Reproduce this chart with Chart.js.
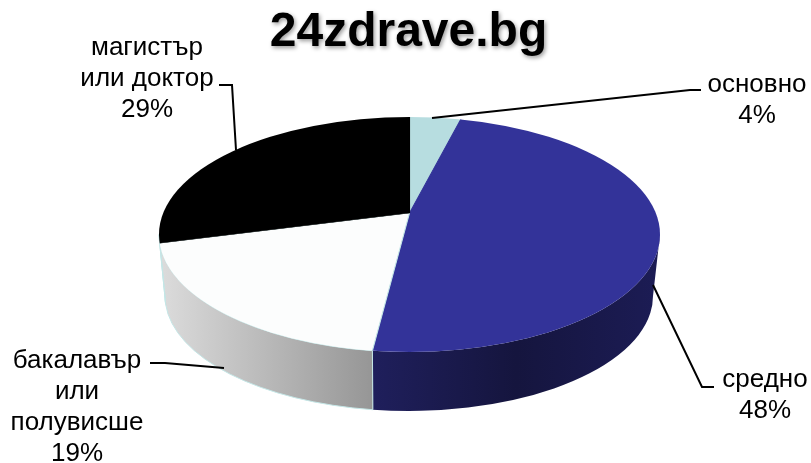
<!DOCTYPE html>
<html><head><meta charset="utf-8">
<style>html,body{margin:0;padding:0;background:#fff}#wrap{width:811px;height:463px}</style>
<script src="https://cdn.jsdelivr.net/npm/chart.js@4"></script>
</head><body><div id="wrap"><canvas id="c" width="811" height="463"></canvas></div>
<script>
const categories = ["основно", "средно", "бакалавър или полувисше", "магистър или доктор"];
const percentValues = [4, 48, 19, 29];
const sliceColors = ["#b7dde0", "#333399", "#fcfdfd", "#000000"];
const edgeColors = ["#b7dde0", "#333399", "#c4e6e6", "#000000"];
const sideStops = [
  ["#8fb0b3", "#8fb0b3"],
  ["#1f1f5c", "#15153e", "#1c1c55"],
  ["#dcdcdc", "#969696"],
  ["#dcdcdc", "#dcdcdc"]
];
const labelLines = [["основно"], ["средно"], ["бакалавър", "или", "полувисше"], ["магистър", "или доктор"]];
const labelAnchors = [
  {x: 757, y: 92},
  {x: 765, y: 387},
  {x: 77, y: 368},
  {x: 147, y: 55}
];
const leaders = [
  [[432,118],[690,90],[701,90]],
  [[653,285],[702,387],[714,387]],
  [[224,368],[165,363],[150,363]],
  [[236,150],[232,85],[219,85]]
];
const titleText = "24zdrave.bg";
const topFace = {cx: 409.5, cy: 234.5, rx: 250.5, ry: 117.5};
const bottomFace = {cx: 409, cy: 296, rx: 244, ry: 115};
const apex = {x: 409.5, y: 213};
const squash = topFace.ry / topFace.rx;

// Where a slice boundary leaving the off-centre apex meets the top ellipse (perspective look)
function rimAngle(theta) {
  const cy = (topFace.cy - apex.y) / squash;
  const dy = Math.sin(theta), dx = Math.cos(theta);
  const cd = cy * dy;
  const t = cd + Math.sqrt(cd * cd - cy * cy + topFace.rx * topFace.rx);
  let phi = Math.atan2(t * dy - cy, t * dx);
  if (phi < -Math.PI / 2 - 1e-6) phi += 2 * Math.PI;
  return phi;
}

const pie3d = {
  id: "pie3d",
  beforeDatasetsDraw(chart) {
    const ctx = chart.ctx, arcs = chart.getDatasetMeta(0).data;
    arcs.forEach((arc, i) => {
      const a = Math.max(rimAngle(arc.startAngle), 0);
      const b = i === arcs.length - 1 ? Math.PI : Math.min(rimAngle(arc.endAngle), Math.PI);
      if (b <= a) return;
      const x1 = topFace.cx + topFace.rx * Math.cos(b), x2 = topFace.cx + topFace.rx * Math.cos(a);
      const g = ctx.createLinearGradient(x1, 0, x2, 0);
      sideStops[i].forEach((c, k) => g.addColorStop(k / (sideStops[i].length - 1), c));
      ctx.save();
      ctx.beginPath();
      ctx.ellipse(topFace.cx, topFace.cy, topFace.rx, topFace.ry, 0, a, b);
      ctx.ellipse(bottomFace.cx, bottomFace.cy, bottomFace.rx, bottomFace.ry, 0, b, a, true);
      ctx.closePath();
      ctx.fillStyle = g;
      ctx.fill();
      if (i >= 2) { ctx.strokeStyle = "#c4e6e6"; ctx.lineWidth = 1; ctx.stroke(); }
      ctx.restore();
    });
    const arc = arcs[0];
    const k = 1.3 * topFace.rx / arc.outerRadius;
    ctx.save();
    ctx.beginPath();
    ctx.ellipse(topFace.cx, topFace.cy, topFace.rx, topFace.ry, 0, 0, 2 * Math.PI);
    ctx.clip();
    ctx.translate(apex.x, apex.y);
    ctx.scale(k, k * squash);
    ctx.translate(-arc.x, -arc.y);
  },
  afterDatasetsDraw(chart) {
    chart.ctx.restore();
  },
  afterDraw(chart) {
    const ctx = chart.ctx;
    ctx.save();
    ctx.strokeStyle = "#000";
    ctx.lineWidth = 2;
    leaders.forEach(pts => {
      ctx.beginPath();
      pts.forEach((p, k) => k ? ctx.lineTo(p[0], p[1]) : ctx.moveTo(p[0], p[1]));
      ctx.stroke();
    });
    ctx.fillStyle = "#000";
    ctx.textAlign = "center";
    ctx.textBaseline = "alphabetic";
    ctx.font = '26px "Liberation Sans", Arial, sans-serif';
    labelLines.forEach((lines, i) => {
      const all = lines.concat(percentValues[i] + "%");
      all.forEach((t, k) => ctx.fillText(t, labelAnchors[i].x, labelAnchors[i].y + k * 31));
    });
    ctx.font = 'bold 48px "Liberation Sans", Arial, sans-serif';
    ctx.shadowColor = "rgba(0,0,0,0.4)";
    ctx.shadowBlur = 4;
    ctx.shadowOffsetX = 1.5;
    ctx.shadowOffsetY = 1.5;
    ctx.fillText(titleText, 408.5, 46);
    ctx.restore();
  }
};

new Chart(document.getElementById("c"), {
  type: "pie",
  data: {
    labels: categories,
    datasets: [{
      data: percentValues,
      backgroundColor: sliceColors,
      borderColor: edgeColors,
      borderWidth: 0.8
    }]
  },
  options: {
    responsive: false,
    animation: false,
    layout: {padding: 0},
    plugins: {legend: {display: false}, tooltip: {enabled: false}, title: {display: false}}
  },
  plugins: [pie3d]
});
</script></body></html>
